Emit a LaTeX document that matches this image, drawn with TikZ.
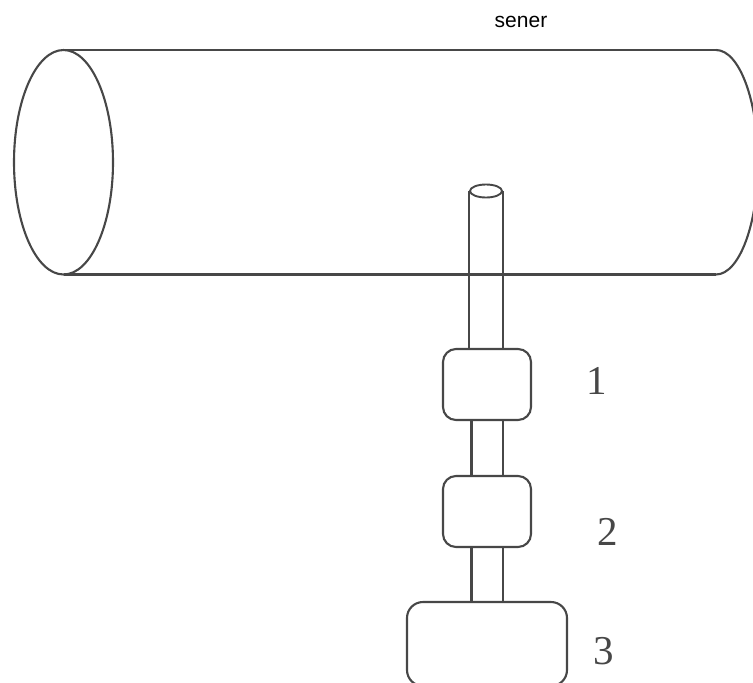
\documentclass[tikz,border=0pt]{standalone}
\usetikzlibrary{shapes.geometric}
\usepackage{fontspec}
\setmainfont{Liberation Serif}
\newfontfamily\labelsans{Liberation Sans}
\tikzset{
  ink/.style={draw=black!72,line width=2.1pt},
  thin ink/.style={draw=black!72,line width=1.9pt},
  unitbox/.style={ink,rounded corners=13pt,minimum width=88pt,minimum height=71pt,inner sep=0pt,fill=white},
  num/.style={text=black!72,font=\fontsize{41}{41}\selectfont,inner sep=0pt},
}
\begin{document}
\begin{tikzpicture}[x=1pt,y=-1pt]
\useasboundingbox (0,0) rectangle (753,683);
\clip (0,0) rectangle (753,683);
% main tube
\coordinate (tl) at (63.5,50);
\coordinate (bl) at (63.5,274.5);
\coordinate (tr) at (716,50);
\coordinate (br) at (716,274.5);
\draw[ink] (tl) -- (tr);
\draw[ink] (bl) -- (br);
\draw[ink] (tr) arc[start angle=-90,end angle=90,x radius=42,y radius=112.25];
\node[ink,draw,ellipse,minimum width=99pt,minimum height=224.5pt,inner sep=0pt] (mouth) at (63.5,162.25) {};
% stack of units
\node[unitbox] (u1) at (487,384.5) {};
\node[unitbox] (u2) at (487,511.5) {};
\node[unitbox,rounded corners=16pt,minimum width=160pt,minimum height=84pt] (u3) at (487,644) {};
% probe
\node[thin ink,draw,ellipse,minimum width=32pt,minimum height=13pt,inner sep=0pt] (tip) at (486,191) {};
\draw[thin ink] (tip.west) -- (tip.west |- u1.north);
\draw[thin ink] (tip.east) -- (tip.east |- u1.north);
% links between units
\coordinate (l) at (471.5,0);
\coordinate (r) at (503,0);
\draw[ink] (l |- u1.south) -- (l |- u2.north);
\draw[ink] (r |- u1.south) -- (r |- u2.north);
\draw[ink] (l |- u2.south) -- (l |- u3.north);
\draw[ink] (r |- u2.south) -- (r |- u3.north);
% labels
\node[num] (n1) at (597,381) {1};
\node[num] (n2) at (608,532) {2};
\node[num] (n3) at (604,651) {3};
\node[font=\labelsans\fontsize{21}{21}\selectfont,inner sep=0pt] (title) at (521,22) {sener};
\end{tikzpicture}
\end{document}
